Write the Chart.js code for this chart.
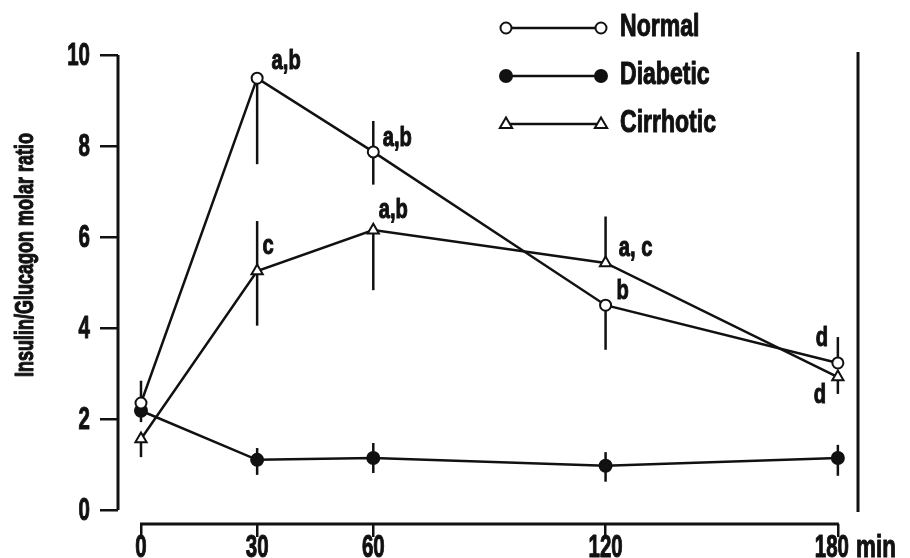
<!DOCTYPE html>
<html>
<head>
  <title>Insulin/Glucagon molar ratio</title>
  <script src="https://cdn.jsdelivr.net/npm/chart.js"></script>
  <style>
    body { margin: 0; background: #fff; }
    canvas { display: block; }
  </style>
</head>
<body>
  <canvas id="chart" width="910" height="558"></canvas>

  <script>
    // data
    const minutes = [0, 30, 60, 120, 180];
    const xTicks = [0, 30, 60, 120, 180];
    const yTicks = [0, 2, 4, 6, 8, 10];

    const normal     = [2.35, 9.49, 7.87, 4.50, 3.23];
    const normalHigh = [2.84, null, 8.55, null, 3.80];
    const normalLow  = [null, 7.60, 7.15, 3.52, null];
    const normalNotes = ['', 'a,b', 'a,b', 'b', 'd'];

    const diabetic     = [2.18, 1.10, 1.14, 0.97, 1.14];
    const diabeticHigh = [null, 1.36, 1.47, 1.27, 1.43];
    const diabeticLow  = [1.93, 0.77, 0.81, 0.62, 0.75];
    const diabeticNotes = ['', '', '', '', ''];

    const cirrhotic     = [1.56, 5.25, 6.15, 5.43, 2.92];
    const cirrhoticHigh = [null, 6.35, null, 6.45, null];
    const cirrhoticLow  = [1.16, 4.05, 4.83, null, 2.55];
    const cirrhoticNotes = ['', 'c', 'a,b', 'a, c', 'd'];

    // no condensed face installed, so text is squeezed by hand
    const FONT = "'Liberation Sans', Arial, sans-serif";

    // where each letter sits relative to its point (pixels)
    const notePos = {
      Normal:    [null, [29, -17], [24, -14], [17, -14], [-16, -25]],
      Diabetic:  [null, null, null, null, null],
      Cirrhotic: [null, [11, -25], [20, -20], [30, -15], [-18, 18]]
    };

    const series = [
      { label: 'Normal', data: normal, high: normalHigh, low: normalLow, notes: normalNotes,
        pointStyle: 'circle', radius: 5.5, fill: '#fff' },
      { label: 'Diabetic', data: diabetic, high: diabeticHigh, low: diabeticLow, notes: diabeticNotes,
        pointStyle: 'circle', radius: 6, fill: '#111' },
      { label: 'Cirrhotic', data: cirrhotic, high: cirrhoticHigh, low: cirrhoticLow, notes: cirrhoticNotes,
        pointStyle: 'triangle', radius: 6.5, fill: '#fff' }
    ];

    function text(ctx, str, x, y, size, sx, align, baseline) {
      ctx.save();
      ctx.translate(x, y);
      ctx.scale(sx, 1);
      ctx.font = `bold ${size}px ${FONT}`;
      ctx.textAlign = align;
      ctx.textBaseline = baseline;
      ctx.fillStyle = '#111';
      ctx.strokeStyle = '#111';
      ctx.lineWidth = 1.1;
      ctx.lineJoin = 'round';
      ctx.fillText(str, 0, 0);
      ctx.strokeText(str, 0, 0);
      ctx.restore();
    }

    function drawMarker(ctx, s, x, y) {
      ctx.save();
      ctx.lineWidth = 2;
      ctx.strokeStyle = '#111';
      ctx.fillStyle = s.fill;
      ctx.beginPath();
      if (s.pointStyle === 'triangle') {
        const r = s.radius;
        ctx.moveTo(x, y - r);
        ctx.lineTo(x + r * 0.95, y + r * 0.6);
        ctx.lineTo(x - r * 0.95, y + r * 0.6);
        ctx.closePath();
      } else {
        ctx.arc(x, y, s.radius, 0, Math.PI * 2);
      }
      ctx.fill();
      ctx.stroke();
      ctx.restore();
    }

    const figurePlugin = {
      id: 'figure',
      beforeDatasetsDraw(chart) {
        const ctx = chart.ctx;
        const xs = chart.scales.x, ys = chart.scales.y;
        ctx.save();
        ctx.strokeStyle = '#111';
        ctx.lineCap = 'butt';

        // y axis line (stops at 0)
        ctx.lineWidth = 3;
        ctx.beginPath();
        ctx.moveTo(chart.chartArea.left, ys.getPixelForValue(10));
        ctx.lineTo(chart.chartArea.left, ys.getPixelForValue(0));
        ctx.stroke();

        // x axis line, 0 to 180, below the plot
        ctx.beginPath();
        ctx.moveTo(xs.getPixelForValue(xTicks[0]) - 1, chart.chartArea.bottom);
        ctx.lineTo(xs.getPixelForValue(xTicks[xTicks.length - 1]) + 1, chart.chartArea.bottom);
        ctx.stroke();

        // right frame line
        ctx.beginPath();
        ctx.moveTo(chart.chartArea.right, ys.getPixelForValue(10) - 3);
        ctx.lineTo(chart.chartArea.right, ys.getPixelForValue(0) + 2);
        ctx.stroke();

        // error bars
        ctx.lineWidth = 2.5;
        series.forEach(s => {
          minutes.forEach((m, i) => {
            const px = xs.getPixelForValue(m);
            const top = s.high[i] != null ? s.high[i] : s.data[i];
            const bot = s.low[i] != null ? s.low[i] : s.data[i];
            if (top === bot) return;
            ctx.beginPath();
            ctx.moveTo(px, ys.getPixelForValue(top));
            ctx.lineTo(px, ys.getPixelForValue(bot));
            ctx.stroke();
          });
        });
        ctx.restore();
      },
      afterDraw(chart) {
        const ctx = chart.ctx;
        const xs = chart.scales.x, ys = chart.scales.y;

        // tick labels, placed by the scales
        ys.ticks.forEach(t => {
          text(ctx, String(t.value), chart.chartArea.left - 28, ys.getPixelForValue(t.value) + 1, 32, 0.64, 'right', 'middle');
        });
        xs.ticks.forEach(t => {
          text(ctx, String(t.value), xs.getPixelForValue(t.value) - (t.value === 180 ? 6 : 0), 557, 32, 0.64, 'center', 'alphabetic');
        });
        text(ctx, 'min', 856, 557, 32, 0.7, 'left', 'alphabetic');

        // significance letters
        series.forEach(s => {
          s.notes.forEach((t, i) => {
            const off = notePos[s.label][i];
            if (!t || !off) return;
            text(ctx, t, xs.getPixelForValue(minutes[i]) + off[0], ys.getPixelForValue(s.data[i]) + off[1],
                 28, 0.72, 'center', 'middle');
          });
        });

        // legend
        const rows = [24, 72, 120];
        series.forEach((s, i) => {
          const y = rows[i] + 4;
          ctx.save();
          ctx.strokeStyle = '#111';
          ctx.lineWidth = 2.5;
          ctx.beginPath();
          ctx.moveTo(506, y);
          ctx.lineTo(601, y);
          ctx.stroke();
          ctx.restore();
          drawMarker(ctx, s, 506, y);
          drawMarker(ctx, s, 601, y);
          text(ctx, s.label, 620, rows[i] + 12, 32, 0.72, 'left', 'alphabetic');
        });

        // axis title
        ctx.save();
        ctx.translate(33, 255);
        ctx.rotate(-Math.PI / 2);
        text(ctx, 'Insulin/Glucagon molar ratio', 0, 0, 25, 0.72, 'center', 'alphabetic');
        ctx.restore();
      }
    };

    new Chart(document.getElementById('chart'), {
      type: 'line',
      data: {
        datasets: series.map(s => ({
          label: s.label,
          data: minutes.map((m, i) => ({ x: m, y: s.data[i] })),
          borderColor: '#111',
          borderWidth: 2.5,
          pointStyle: s.pointStyle,
          pointRadius: s.radius,
          pointBackgroundColor: s.fill,
          pointBorderColor: '#111',
          pointBorderWidth: 2,
          tension: 0,
          fill: false,
          clip: false
        }))
      },
      options: {
        responsive: false,
        animation: false,
        layout: { padding: { top: 55, right: 52, left: 0, bottom: 0 } },
        plugins: { legend: { display: false }, tooltip: { enabled: false } },
        scales: {
          x: {
            type: 'linear',
            min: -5.94,
            max: 185.2,
            afterBuildTicks: s => { s.ticks = xTicks.map(v => ({ value: v })); },
            afterFit: s => { s.height = 34; },
            border: { display: false },
            grid: { drawOnChartArea: false, drawTicks: true, tickLength: 13, color: '#111', lineWidth: 2.5 },
            ticks: { display: false }
          },
          y: {
            min: -0.31,
            max: 10,
            afterBuildTicks: s => { s.ticks = yTicks.map(v => ({ value: v })); },
            afterFit: s => { s.width = 118; },
            border: { display: false },
            grid: { drawOnChartArea: false, drawTicks: true, tickLength: 18, color: '#111', lineWidth: 2.5 },
            ticks: { display: false }
          }
        }
      },
      plugins: [figurePlugin]
    });
  </script>
</body>
</html>
